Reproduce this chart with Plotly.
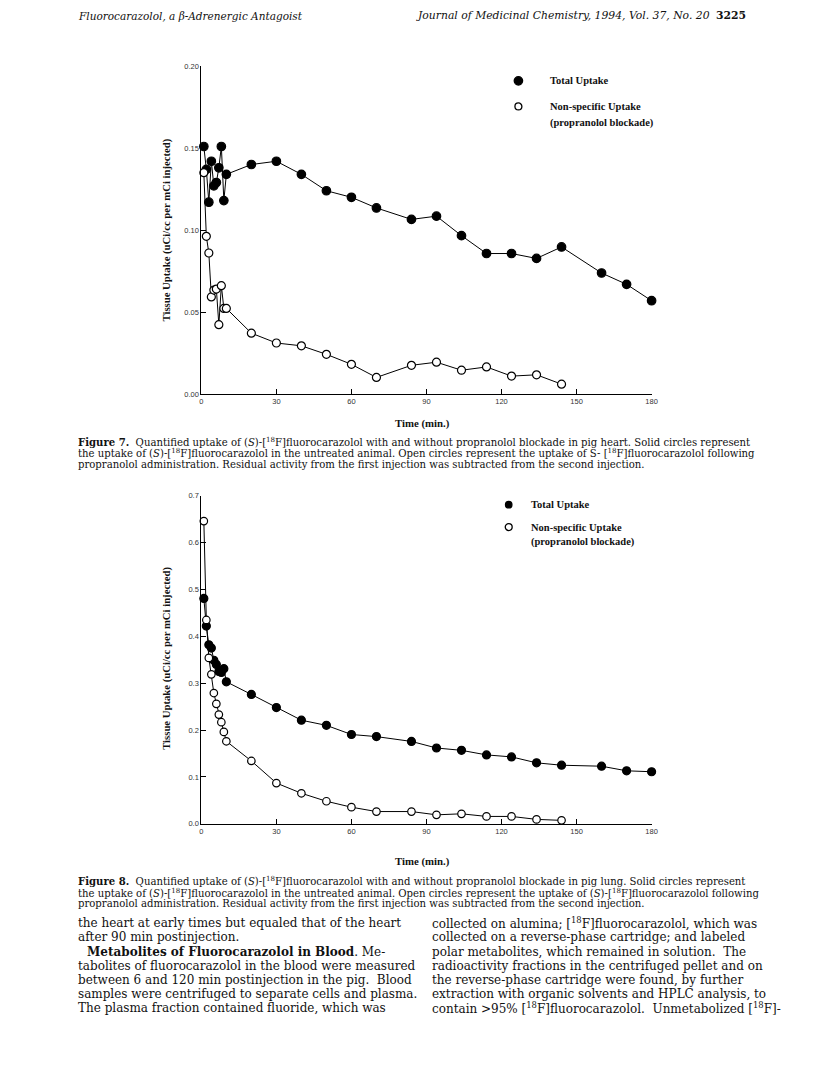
import plotly.graph_objects as go

W, H = 820, 1068

# ---------------- data ----------------
heart_t_total = [1, 2, 3, 4, 5, 6, 7, 8, 9, 10, 20, 30, 40, 50, 60, 70, 84, 94, 104, 114, 124, 134, 144, 160, 170, 180]
heart_total = [0.151, 0.137, 0.117, 0.142, 0.127, 0.129, 0.138, 0.151, 0.118, 0.134, 0.140, 0.142, 0.134, 0.124,
               0.120, 0.1135, 0.1065, 0.1085, 0.0966, 0.0857, 0.0857, 0.0827, 0.0897, 0.0738, 0.0669, 0.0569]
heart_t_ns = [1, 2, 3, 4, 5, 6, 7, 8, 9, 10, 20, 30, 40, 50, 60, 70, 84, 94, 104, 114, 124, 134, 144]
heart_ns = [0.135, 0.0962, 0.086, 0.0592, 0.0634, 0.064, 0.0423, 0.0661, 0.0522, 0.0522, 0.0371, 0.0311, 0.0294,
            0.0242, 0.0181, 0.0101, 0.0175, 0.0194, 0.0145, 0.0165, 0.0109, 0.0117, 0.006]

lung_t_total = [1, 2, 3, 4, 5, 6, 7, 8, 9, 10, 20, 30, 40, 50, 60, 70, 84, 94, 104, 114, 124, 134, 144, 160, 170, 180]
lung_total = [0.481, 0.422, 0.382, 0.375, 0.349, 0.340, 0.325, 0.323, 0.331, 0.303, 0.276, 0.248, 0.221, 0.210,
              0.1905, 0.186, 0.1757, 0.1617, 0.1567, 0.1469, 0.1427, 0.130, 0.1249, 0.1228, 0.113, 0.111]
lung_t_ns = [1, 2, 3, 4, 5, 6, 7, 8, 9, 10, 20, 30, 40, 50, 60, 70, 84, 94, 104, 114, 124, 134, 144]
lung_ns = [0.646, 0.435, 0.354, 0.319, 0.279, 0.256, 0.233, 0.2167, 0.196, 0.176, 0.134, 0.0868, 0.065, 0.048,
           0.0353, 0.026, 0.026, 0.019, 0.0212, 0.0156, 0.0156, 0.0093, 0.0072]

x_ticks = [0, 30, 60, 90, 120, 150, 180]
heart_y_ticks = [0.0, 0.05, 0.10, 0.15, 0.20]
heart_y_labels = ["0.00", "0.05", "0.10", "0.15", "0.20"]
lung_y_ticks = [0.0, 0.1, 0.2, 0.3, 0.4, 0.5, 0.6, 0.7]
lung_y_labels = ["0.0", "0.1", "0.2", "0.3", "0.4", "0.5", "0.6", "0.7"]

# ---------------- helpers ----------------
def px(x):
    return x / W

def py(y):
    return 1 - y / H

SERIF = "Liberation Serif"
BOOK = "DejaVu Serif"
SANS = "Liberation Sans"

fig = go.Figure()

def add_series(t, v, xa, ya, filled, size):
    fig.add_trace(go.Scatter(
        x=t, y=v, xaxis=xa, yaxis=ya, mode="lines+markers",
        line=dict(color="black", width=1),
        marker=dict(symbol="circle", size=size,
                    color="black" if filled else "white",
                    line=dict(color="black", width=1.2)),
        showlegend=False, cliponaxis=False, hoverinfo="skip"))

add_series(heart_t_total, heart_total, "x", "y", True, 8.5)
add_series(heart_t_ns, heart_ns, "x", "y", False, 8)
add_series(lung_t_total, lung_total, "x2", "y2", True, 8)
add_series(lung_t_ns, lung_ns, "x2", "y2", False, 7.5)

x_left, x_right = 201.3, 656
ax_common = dict(showline=True, linecolor="black", linewidth=1, ticks="inside", ticklen=5,
                 tickcolor="black", showgrid=False, zeroline=False,
                 tickfont=dict(family=SANS, size=7.5, color="#333"))

fig.update_layout(
    width=W, height=H, margin=dict(l=0, r=0, t=0, b=0),
    paper_bgcolor="white", plot_bgcolor="white",
    xaxis=dict(domain=[px(x_left), px(x_right)], range=[0, 180], tickvals=x_ticks, anchor="y", **ax_common),
    yaxis=dict(domain=[py(393.3), py(62.7)], range=[0, 0.2], tickvals=heart_y_ticks, ticktext=heart_y_labels,
               anchor="x", **ax_common),
    xaxis2=dict(domain=[px(x_left), px(x_right)], range=[0, 180], tickvals=x_ticks, anchor="y2", **ax_common),
    yaxis2=dict(domain=[py(826.7), py(496)], range=[0, 0.7], tickvals=lung_y_ticks, ticktext=lung_y_labels,
                anchor="x2", **ax_common),
)

shapes = []
annotations = []

def text(x, y, s, size, family=SERIF, xanchor="left", color="#111", angle=0, weight="normal", style="normal"):
    annotations.append(dict(x=px(x), y=py(y), xref="paper", yref="paper", text=s, showarrow=False,
                            xanchor=xanchor, yanchor="middle", textangle=angle, borderpad=0,
                            font=dict(family=family, size=size, color=color, weight=weight, style=style)))

def legend_marker(x, y, filled, d):
    shapes.append(dict(type="circle", xref="paper", yref="paper",
                       x0=px(x - d / 2), x1=px(x + d / 2), y0=py(y + d / 2), y1=py(y - d / 2),
                       fillcolor="black" if filled else "white", line=dict(color="black", width=1.3)))

LEFT = 76

# header
text(LEFT, 12, "Fluorocarazolol, a β-Adrenergic Antagoist", 10.5, family=BOOK, style="italic")
text(716, 12, "Journal of Medicinal Chemistry, 1994, Vol. 37, No. 20", 10.8, family=BOOK, xanchor="right",
     style="italic")
text(752, 12, "3225", 10.8, family=BOOK, xanchor="right", weight="bold")

# legends
legend_marker(521.5, 77.5, True, 8.5)
text(552, 77.5, "Total Uptake", 10.5, weight="bold")
legend_marker(521.5, 103.3, False, 7)
text(552, 103.3, "Non-specific Uptake", 10.5, weight="bold")
text(552, 120.5, "(propranolol blockade)", 10.5, weight="bold")

legend_marker(511.7, 505, True, 6.5)
text(533, 505, "Total Uptake", 10.5, weight="bold")
legend_marker(511.7, 527.5, False, 7)
text(533, 527.5, "Non-specific Uptake", 10.5, weight="bold")
text(533, 543, "(propranolol blockade)", 10.5, weight="bold")

# axis titles
ytitle = "Tissue Uptake (uCi/cc per mCi injected)"
text(166, 228, ytitle, 10.7, xanchor="center", angle=-90, weight="bold")
text(166, 660, ytitle, 10.7, xanchor="center", angle=-90, weight="bold")
text(425, 423, "Time (min.)", 10.8, xanchor="center", weight="bold")
text(425, 865, "Time (min.)", 10.8, xanchor="center", weight="bold")

# captions
cap7 = [
    "<b>Figure 7.</b>  Quantified uptake of (<i>S</i>)-[<sup>18</sup>F]fluorocarazolol with and without propranolol blockade in pig heart. Solid circles represent",
    "the uptake of (<i>S</i>)-[<sup>18</sup>F]fluorocarazolol in the untreated animal. Open circles represent the uptake of S- [<sup>18</sup>F]fluorocarazolol following",
    "propranolol administration. Residual activity from the first injection was subtracted from the second injection.",
]
cap8 = [
    "<b>Figure 8.</b>  Quantified uptake of (<i>S</i>)-[<sup>18</sup>F]fluorocarazolol with and without propranolol blockade in pig lung. Solid circles represent",
    "the uptake of (<i>S</i>)-[<sup>18</sup>F]fluorocarazolol in the untreated animal. Open circles represent the uptake of (<i>S</i>)-[<sup>18</sup>F]fluorocarazolol following",
    "propranolol administration. Residual activity from the first injection was subtracted from the second injection.",
]
for i, s in enumerate(cap7):
    text(LEFT, 441 + 11.8 * i, s, 10.1, family=BOOK)
for i, s in enumerate(cap8):
    text(LEFT, 884 + 11.8 * i, s, 10.1, family=BOOK)

left_col = [
    "the heart at early times but equaled that of the heart",
    "after 90 min postinjection.",
    "<b>Metabolites of Fluorocarazolol in Blood</b>. Me-",
    "tabolites of fluorocarazolol in the blood were measured",
    "between 6 and 120 min postinjection in the pig.  Blood",
    "samples were centrifuged to separate cells and plasma.",
    "The plasma fraction contained fluoride, which was",
]
right_col = [
    "collected on alumina; [<sup>18</sup>F]fluorocarazolol, which was",
    "collected on a reverse-phase cartridge; and labeled",
    "polar metabolites, which remained in solution.  The",
    "radioactivity fractions in the centrifuged pellet and on",
    "the reverse-phase cartridge were found, by further",
    "extraction with organic solvents and HPLC analysis, to",
    "contain >95% [<sup>18</sup>F]fluorocarazolol.  Unmetabolized [<sup>18</sup>F]-",
]
for i, s in enumerate(left_col):
    text(LEFT + 9 if i == 2 else LEFT, 927 + 14.3 * i, s, 12, family=BOOK)
for i, s in enumerate(right_col):
    text(433, 927 + 14.3 * i, s, 12, family=BOOK)

fig.update_layout(shapes=shapes, annotations=annotations)
fig.write_html("out.html", config={"displayModeBar": False},
               post_script="document.body.style.margin='0';document.body.style.padding='0';"
                           "document.documentElement.style.overflow='hidden';")
